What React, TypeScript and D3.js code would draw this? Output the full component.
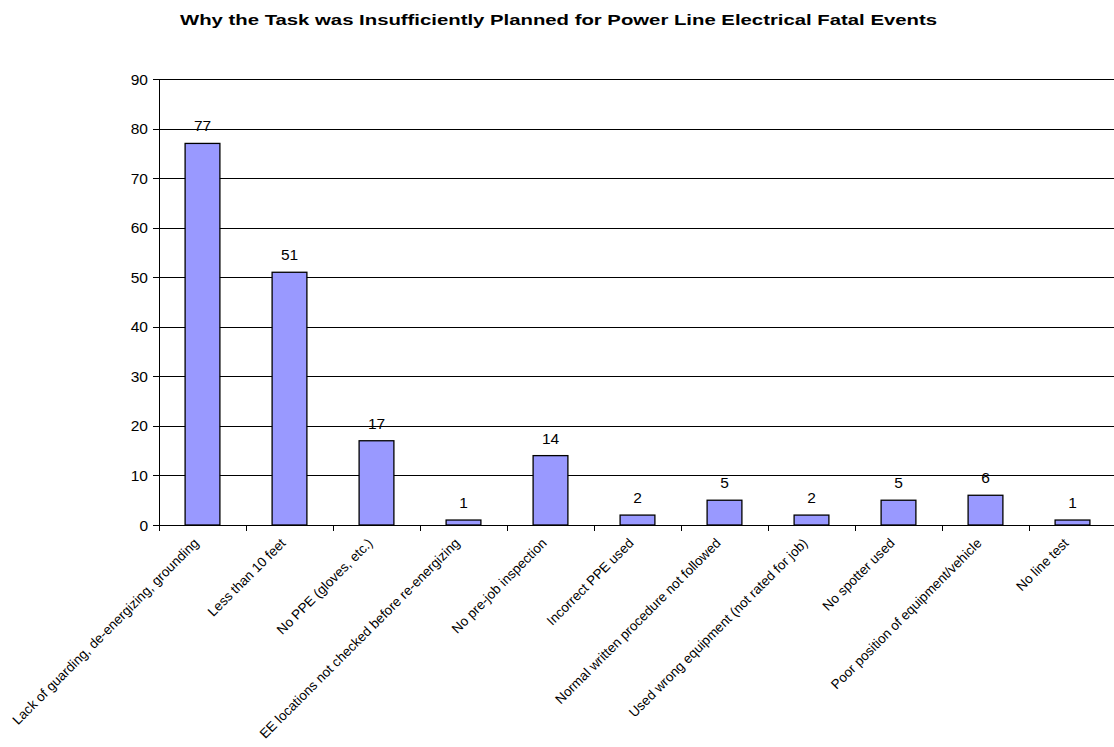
import React from "react";
import * as d3 from "d3";

const title = "Why the Task was Insufficiently Planned for Power Line Electrical Fatal Events";

const categories = [
  "Lack of guarding, de-energizing, grounding",
  "Less than 10 feet",
  "No PPE (gloves, etc.)",
  "EE locations not checked before re-energizing",
  "No pre-job inspection",
  "Incorrect PPE used",
  "Normal written procedure not followed",
  "Used wrong equipment (not rated for job)",
  "No spotter used",
  "Poor position of equipment/vehicle",
  "No line test",
];

const counts = [77, 51, 17, 1, 14, 2, 5, 2, 5, 6, 1];

const yTicks = [0, 10, 20, 30, 40, 50, 60, 70, 80, 90];

const W = 1114;
const H = 747;
const left = 159;
const right = 1116;
const top = 79;
const bottom = 525;
const font = "'Liberation Sans', Arial, Helvetica, sans-serif";

export default function App() {
  const x = d3
    .scaleBand<string>()
    .domain(categories)
    .range([left, right])
    .paddingInner(0.6)
    .paddingOuter(0.3);
  const y = d3.scaleLinear().domain([0, 90]).range([bottom, top]);
  const step = x.step();
  const bandStart = (i: number) => left + i * step;

  return (
    <svg
      width={W}
      height={H}
      style={{ position: "absolute", left: 0, top: 0, background: "#fff" }}
      fontFamily={font}
    >
      <text
        x={180}
        y={25}
        fontWeight="bold"
        fontSize={14}
        textLength={757}
        lengthAdjust="spacingAndGlyphs"
        fill="#000"
      >
        {title}
      </text>

      {/* horizontal gridlines and y ticks */}
      {yTicks.map((t) => (
        <g key={t}>
          <line
            x1={left - 6}
            x2={right}
            y1={Math.round(y(t)) + 0.5}
            y2={Math.round(y(t)) + 0.5}
            stroke="#000"
            strokeWidth={1}
          />
          <text
            x={148}
            y={y(t)}
            dy="0.36em"
            textAnchor="end"
            fontSize={15.5}
            fill="#000"
          >
            {t}
          </text>
        </g>
      ))}

      {/* bars */}
      {categories.map((c, i) => (
        <rect
          key={c}
          x={x(c)!}
          y={y(counts[i])}
          width={x.bandwidth()}
          height={y(0) - y(counts[i])}
          fill="#9999FF"
          stroke="#000"
          strokeWidth={1.3}
        />
      ))}

      {/* value labels */}
      {categories.map((c, i) => (
        <text
          key={c}
          x={x(c)! + x.bandwidth() / 2}
          y={y(counts[i]) - 12}
          textAnchor="middle"
          fontSize={15.5}
          fill="#000"
        >
          {counts[i]}
        </text>
      ))}

      {/* y axis */}
      <line
        x1={left + 0.5}
        x2={left + 0.5}
        y1={top}
        y2={bottom + 0.5}
        stroke="#000"
      />
      {/* x axis ticks */}
      {d3.range(categories.length + 1).map((i) => (
        <line
          key={i}
          x1={Math.round(bandStart(i)) + 0.5}
          x2={Math.round(bandStart(i)) + 0.5}
          y1={bottom}
          y2={bottom + 6}
          stroke="#000"
        />
      ))}

      {/* category labels */}
      {categories.map((c, i) => {
        const cx = bandStart(i) + step / 2;
        return (
          <text
            key={c}
            transform={`translate(${cx - 3},${bottom + 19}) rotate(-45)`}
            textAnchor="end"
            fontSize={13.5}
            fill="#000"
          >
            {c}
          </text>
        );
      })}
    </svg>
  );
}
